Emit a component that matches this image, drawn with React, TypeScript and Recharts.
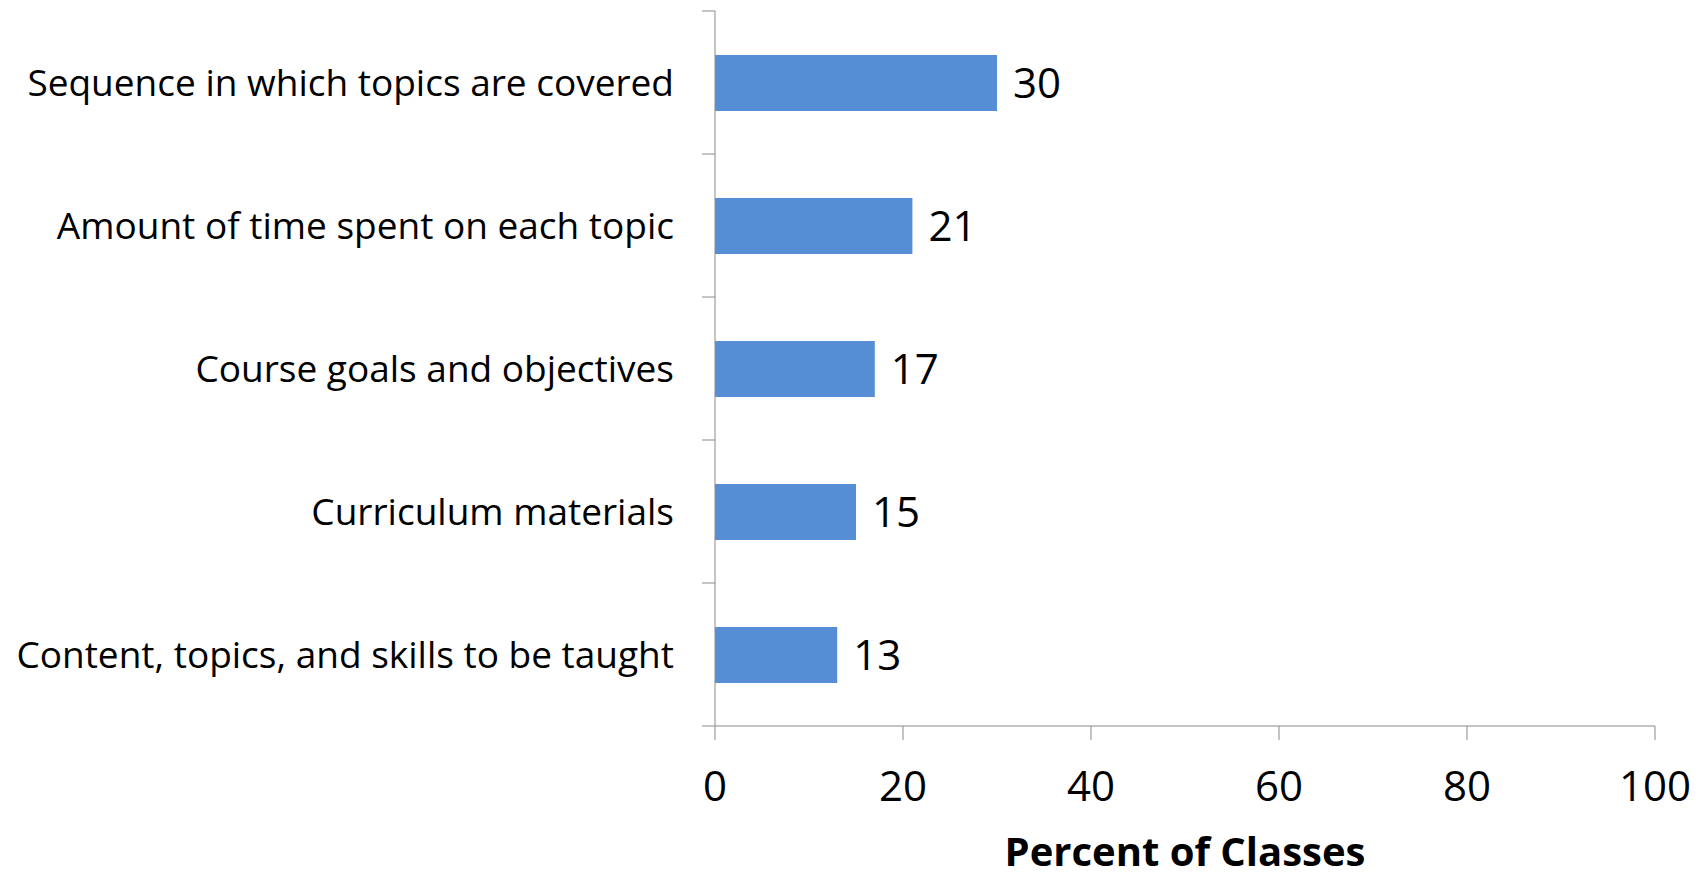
import { BarChart, Bar, XAxis, YAxis, LabelList } from 'recharts'

const categories = [
  'Sequence in which topics are covered',
  'Amount of time spent on each topic',
  'Course goals and objectives',
  'Curriculum materials',
  'Content, topics, and skills to be taught',
]
const percents = [30, 21, 17, 15, 13]
const xTicks = [0, 20, 40, 60, 80, 100]

const data = categories.map((name, i) => ({ name, value: percents[i] }))

const FONT = '"Open Sans", sans-serif'
const AXIS = '#8a8a8a'
const W = 1708, H = 872
const TOP = 11, XH = 146, YW = 715
const GAP = 41, TICK = 13
const HALF = (H - TOP - XH) / categories.length / 2

// category labels, with Excel-style tick marks between the bands
function CatTick({ x, y, payload, index }: any) {
  const ax = x + GAP
  return (
    <g>
      <text x={x} y={y} dy="0.355em" textAnchor="end" fill="#000" fontSize={37} fontFamily={FONT}>
        {payload.value}
      </text>
      <line x1={ax - TICK} x2={ax} y1={y - HALF} y2={y - HALF} stroke={AXIS} />
      {index === categories.length - 1 && (
        <line x1={ax - TICK} x2={ax} y1={y + HALF} y2={y + HALF} stroke={AXIS} />
      )}
    </g>
  )
}

export default function App() {
  return (
    <div style={{ position: 'absolute', left: 0, top: 0, background: '#fff' }}>
      <BarChart width={W} height={H} data={data} layout="vertical"
        margin={{ top: TOP, right: 53, bottom: 0, left: 0 }}>
        <XAxis type="number" domain={[0, 100]} ticks={xTicks} interval={0}
          stroke={AXIS} tickSize={14} tickMargin={31} height={XH}
          tick={{ fill: '#000', fontSize: 42, fontFamily: FONT }}
          label={{ value: 'Percent of Classes', position: 'insideBottom', offset: 6,
            style: { fill: '#000', fontSize: 40, fontWeight: 700, fontFamily: FONT } }} />
        <YAxis type="category" dataKey="name" width={YW} interval={0}
          stroke={AXIS} tickLine={false} tickSize={0} tickMargin={GAP}
          tick={<CatTick />} />
        <Bar dataKey="value" fill="#558ED5" barSize={56} isAnimationActive={false}>
          <LabelList dataKey="value" position="right" offset={16}
            style={{ fill: '#000', fontSize: 42, fontFamily: FONT }} />
        </Bar>
      </BarChart>
    </div>
  )
}
